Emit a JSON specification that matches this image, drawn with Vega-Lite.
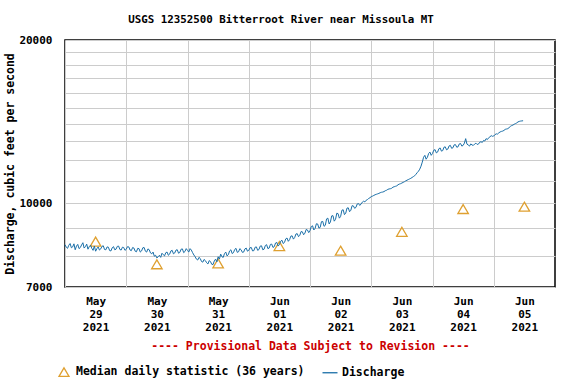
{
  "$schema": "https://vega.github.io/schema/vega-lite/v6.json",
  "autosize": {"type": "none"},
  "width": 490,
  "height": 247,
  "padding": {"left": 65, "top": 40, "right": 21, "bottom": 97},
  "background": "white",
  "config": {
    "view": {"stroke": "black", "strokeWidth": 1.5},
    "font": "DejaVu Sans Mono",
    "axis": {
      "labelFont": "DejaVu Sans Mono", "labelFontWeight": "bold", "labelFontSize": 11, "labelColor": "black",
      "titleFont": "DejaVu Sans Mono", "titleFontWeight": "bold", "titleFontSize": 11.5, "titleColor": "black",
      "domain": false, "ticks": false, "gridColor": "#cccccc", "gridWidth": 1, "gridOpacity": 1
    },
    "legend": {
      "labelFont": "DejaVu Sans Mono", "labelFontWeight": "bold", "labelFontSize": 11.5, "labelColor": "black", "labelLimit": 400
    }
  },
  "title": {
    "text": "USGS 12352500 Bitterroot River near Missoula MT",
    "font": "DejaVu Sans Mono", "fontWeight": "bold", "fontSize": 10.8, "color": "black",
    "anchor": "middle", "dx": -29, "offset": 9
  },
  "datasets": {
    "median": [
      {"t": "2021-05-29T12:00", "v": 8490, "s": "Median daily statistic (36 years)"},
      {"t": "2021-05-30T12:00", "v": 7710, "s": "Median daily statistic (36 years)"},
      {"t": "2021-05-31T12:00", "v": 7740, "s": "Median daily statistic (36 years)"},
      {"t": "2021-06-01T12:00", "v": 8330, "s": "Median daily statistic (36 years)"},
      {"t": "2021-06-02T12:00", "v": 8170, "s": "Median daily statistic (36 years)"},
      {"t": "2021-06-03T12:00", "v": 8850, "s": "Median daily statistic (36 years)"},
      {"t": "2021-06-04T12:00", "v": 9750, "s": "Median daily statistic (36 years)"},
      {"t": "2021-06-05T12:00", "v": 9850, "s": "Median daily statistic (36 years)"}
    ],
    "flow": [
      {"t":"2021-05-29T00:00","v":8380,"s":"Discharge"},{"t":"2021-05-29T00:30","v":8290,"s":"Discharge"},
      {"t":"2021-05-29T01:00","v":8250,"s":"Discharge"},{"t":"2021-05-29T01:30","v":8360,"s":"Discharge"},
      {"t":"2021-05-29T02:00","v":8420,"s":"Discharge"},{"t":"2021-05-29T02:30","v":8270,"s":"Discharge"},
      {"t":"2021-05-29T03:00","v":8300,"s":"Discharge"},{"t":"2021-05-29T03:30","v":8410,"s":"Discharge"},
      {"t":"2021-05-29T04:00","v":8200,"s":"Discharge"},{"t":"2021-05-29T04:30","v":8330,"s":"Discharge"},
      {"t":"2021-05-29T05:00","v":8390,"s":"Discharge"},{"t":"2021-05-29T05:30","v":8240,"s":"Discharge"},
      {"t":"2021-05-29T06:00","v":8280,"s":"Discharge"},{"t":"2021-05-29T06:30","v":8370,"s":"Discharge"},
      {"t":"2021-05-29T07:00","v":8450,"s":"Discharge"},{"t":"2021-05-29T07:30","v":8260,"s":"Discharge"},
      {"t":"2021-05-29T08:00","v":8310,"s":"Discharge"},{"t":"2021-05-29T08:30","v":8400,"s":"Discharge"},
      {"t":"2021-05-29T09:00","v":8220,"s":"Discharge"},{"t":"2021-05-29T09:30","v":8310,"s":"Discharge"},
      {"t":"2021-05-29T10:00","v":8360,"s":"Discharge"},{"t":"2021-05-29T10:30","v":8250,"s":"Discharge"},
      {"t":"2021-05-29T11:00","v":8180,"s":"Discharge"},{"t":"2021-05-29T11:30","v":8330,"s":"Discharge"},
      {"t":"2021-05-29T12:00","v":8150,"s":"Discharge"},{"t":"2021-05-29T12:30","v":8240,"s":"Discharge"},
      {"t":"2021-05-29T13:00","v":8300,"s":"Discharge"},{"t":"2021-05-29T13:30","v":8190,"s":"Discharge"},
      {"t":"2021-05-29T14:00","v":8230,"s":"Discharge"},{"t":"2021-05-29T14:30","v":8320,"s":"Discharge"},
      {"t":"2021-05-29T15:00","v":8340,"s":"Discharge"},{"t":"2021-05-29T15:30","v":8210,"s":"Discharge"},
      {"t":"2021-05-29T16:00","v":8200,"s":"Discharge"},{"t":"2021-05-29T16:30","v":8300,"s":"Discharge"},
      {"t":"2021-05-29T17:00","v":8290,"s":"Discharge"},{"t":"2021-05-29T17:30","v":8170,"s":"Discharge"},
      {"t":"2021-05-29T18:00","v":8160,"s":"Discharge"},{"t":"2021-05-29T18:30","v":8270,"s":"Discharge"},
      {"t":"2021-05-29T19:00","v":8310,"s":"Discharge"},{"t":"2021-05-29T19:30","v":8200,"s":"Discharge"},
      {"t":"2021-05-29T20:00","v":8220,"s":"Discharge"},{"t":"2021-05-29T20:30","v":8320,"s":"Discharge"},
      {"t":"2021-05-29T21:00","v":8330,"s":"Discharge"},{"t":"2021-05-29T21:30","v":8210,"s":"Discharge"},
      {"t":"2021-05-29T22:00","v":8190,"s":"Discharge"},{"t":"2021-05-29T22:30","v":8290,"s":"Discharge"},
      {"t":"2021-05-29T23:00","v":8280,"s":"Discharge"},{"t":"2021-05-29T23:30","v":8180,"s":"Discharge"},
      {"t":"2021-05-30T00:00","v":8220,"s":"Discharge"},{"t":"2021-05-30T00:30","v":8310,"s":"Discharge"},
      {"t":"2021-05-30T01:00","v":8300,"s":"Discharge"},{"t":"2021-05-30T01:30","v":8190,"s":"Discharge"},
      {"t":"2021-05-30T02:00","v":8170,"s":"Discharge"},{"t":"2021-05-30T02:30","v":8280,"s":"Discharge"},
      {"t":"2021-05-30T03:00","v":8260,"s":"Discharge"},{"t":"2021-05-30T03:30","v":8150,"s":"Discharge"},
      {"t":"2021-05-30T04:00","v":8130,"s":"Discharge"},{"t":"2021-05-30T04:30","v":8250,"s":"Discharge"},
      {"t":"2021-05-30T05:00","v":8240,"s":"Discharge"},{"t":"2021-05-30T05:30","v":8120,"s":"Discharge"},
      {"t":"2021-05-30T06:00","v":8160,"s":"Discharge"},{"t":"2021-05-30T06:30","v":8270,"s":"Discharge"},
      {"t":"2021-05-30T07:00","v":8280,"s":"Discharge"},{"t":"2021-05-30T07:30","v":8150,"s":"Discharge"},
      {"t":"2021-05-30T08:00","v":8120,"s":"Discharge"},{"t":"2021-05-30T08:30","v":8230,"s":"Discharge"},
      {"t":"2021-05-30T09:00","v":8200,"s":"Discharge"},{"t":"2021-05-30T09:30","v":8090,"s":"Discharge"},
      {"t":"2021-05-30T10:00","v":8060,"s":"Discharge"},{"t":"2021-05-30T10:30","v":8120,"s":"Discharge"},
      {"t":"2021-05-30T11:00","v":7980,"s":"Discharge"},{"t":"2021-05-30T11:30","v":8010,"s":"Discharge"},
      {"t":"2021-05-30T12:00","v":7920,"s":"Discharge"},{"t":"2021-05-30T12:30","v":7960,"s":"Discharge"},
      {"t":"2021-05-30T13:00","v":8010,"s":"Discharge"},{"t":"2021-05-30T13:30","v":7940,"s":"Discharge"},
      {"t":"2021-05-30T14:00","v":8080,"s":"Discharge"},{"t":"2021-05-30T14:30","v":8030,"s":"Discharge"},
      {"t":"2021-05-30T15:00","v":7990,"s":"Discharge"},{"t":"2021-05-30T15:30","v":8100,"s":"Discharge"},
      {"t":"2021-05-30T16:00","v":8120,"s":"Discharge"},{"t":"2021-05-30T16:30","v":8010,"s":"Discharge"},
      {"t":"2021-05-30T17:00","v":8050,"s":"Discharge"},{"t":"2021-05-30T17:30","v":8160,"s":"Discharge"},
      {"t":"2021-05-30T18:00","v":8180,"s":"Discharge"},{"t":"2021-05-30T18:30","v":8060,"s":"Discharge"},
      {"t":"2021-05-30T19:00","v":8090,"s":"Discharge"},{"t":"2021-05-30T19:30","v":8190,"s":"Discharge"},
      {"t":"2021-05-30T20:00","v":8200,"s":"Discharge"},{"t":"2021-05-30T20:30","v":8080,"s":"Discharge"},
      {"t":"2021-05-30T21:00","v":8110,"s":"Discharge"},{"t":"2021-05-30T21:30","v":8220,"s":"Discharge"},
      {"t":"2021-05-30T22:00","v":8230,"s":"Discharge"},{"t":"2021-05-30T22:30","v":8100,"s":"Discharge"},
      {"t":"2021-05-30T23:00","v":8140,"s":"Discharge"},{"t":"2021-05-30T23:30","v":8240,"s":"Discharge"},
      {"t":"2021-05-31T00:00","v":8180,"s":"Discharge"},{"t":"2021-05-31T00:30","v":8120,"s":"Discharge"},
      {"t":"2021-05-31T01:00","v":8240,"s":"Discharge"},{"t":"2021-05-31T01:30","v":8190,"s":"Discharge"},
      {"t":"2021-05-31T02:00","v":8100,"s":"Discharge"},{"t":"2021-05-31T02:30","v":8020,"s":"Discharge"},
      {"t":"2021-05-31T03:00","v":7960,"s":"Discharge"},{"t":"2021-05-31T03:30","v":7880,"s":"Discharge"},
      {"t":"2021-05-31T04:00","v":7850,"s":"Discharge"},{"t":"2021-05-31T04:30","v":7940,"s":"Discharge"},
      {"t":"2021-05-31T05:00","v":7900,"s":"Discharge"},{"t":"2021-05-31T05:30","v":7800,"s":"Discharge"},
      {"t":"2021-05-31T06:00","v":7780,"s":"Discharge"},{"t":"2021-05-31T06:30","v":7870,"s":"Discharge"},
      {"t":"2021-05-31T07:00","v":7830,"s":"Discharge"},{"t":"2021-05-31T07:30","v":7760,"s":"Discharge"},
      {"t":"2021-05-31T08:00","v":7720,"s":"Discharge"},{"t":"2021-05-31T08:30","v":7830,"s":"Discharge"},
      {"t":"2021-05-31T09:00","v":7800,"s":"Discharge"},{"t":"2021-05-31T09:30","v":7710,"s":"Discharge"},
      {"t":"2021-05-31T10:00","v":7700,"s":"Discharge"},{"t":"2021-05-31T10:30","v":7820,"s":"Discharge"},
      {"t":"2021-05-31T11:00","v":7880,"s":"Discharge"},{"t":"2021-05-31T11:30","v":7790,"s":"Discharge"},
      {"t":"2021-05-31T12:00","v":7960,"s":"Discharge"},{"t":"2021-05-31T12:30","v":7880,"s":"Discharge"},
      {"t":"2021-05-31T13:00","v":8050,"s":"Discharge"},{"t":"2021-05-31T13:30","v":7960,"s":"Discharge"},
      {"t":"2021-05-31T14:00","v":7940,"s":"Discharge"},{"t":"2021-05-31T14:30","v":8070,"s":"Discharge"},
      {"t":"2021-05-31T15:00","v":8120,"s":"Discharge"},{"t":"2021-05-31T15:30","v":7990,"s":"Discharge"},
      {"t":"2021-05-31T16:00","v":8030,"s":"Discharge"},{"t":"2021-05-31T16:30","v":8160,"s":"Discharge"},
      {"t":"2021-05-31T17:00","v":8200,"s":"Discharge"},{"t":"2021-05-31T17:30","v":8070,"s":"Discharge"},
      {"t":"2021-05-31T18:00","v":8100,"s":"Discharge"},{"t":"2021-05-31T18:30","v":8210,"s":"Discharge"},
      {"t":"2021-05-31T19:00","v":8250,"s":"Discharge"},{"t":"2021-05-31T19:30","v":8110,"s":"Discharge"},
      {"t":"2021-05-31T20:00","v":8130,"s":"Discharge"},{"t":"2021-05-31T20:30","v":8240,"s":"Discharge"},
      {"t":"2021-05-31T21:00","v":8200,"s":"Discharge"},{"t":"2021-05-31T21:30","v":8110,"s":"Discharge"},
      {"t":"2021-05-31T22:00","v":8120,"s":"Discharge"},{"t":"2021-05-31T22:30","v":8230,"s":"Discharge"},
      {"t":"2021-05-31T23:00","v":8260,"s":"Discharge"},{"t":"2021-05-31T23:30","v":8150,"s":"Discharge"},
      {"t":"2021-06-01T00:00","v":8180,"s":"Discharge"},{"t":"2021-06-01T00:30","v":8270,"s":"Discharge"},
      {"t":"2021-06-01T01:00","v":8280,"s":"Discharge"},{"t":"2021-06-01T01:30","v":8160,"s":"Discharge"},
      {"t":"2021-06-01T02:00","v":8170,"s":"Discharge"},{"t":"2021-06-01T02:30","v":8290,"s":"Discharge"},
      {"t":"2021-06-01T03:00","v":8300,"s":"Discharge"},{"t":"2021-06-01T03:30","v":8180,"s":"Discharge"},
      {"t":"2021-06-01T04:00","v":8210,"s":"Discharge"},{"t":"2021-06-01T04:30","v":8330,"s":"Discharge"},
      {"t":"2021-06-01T05:00","v":8340,"s":"Discharge"},{"t":"2021-06-01T05:30","v":8200,"s":"Discharge"},
      {"t":"2021-06-01T06:00","v":8220,"s":"Discharge"},{"t":"2021-06-01T06:30","v":8350,"s":"Discharge"},
      {"t":"2021-06-01T07:00","v":8380,"s":"Discharge"},{"t":"2021-06-01T07:30","v":8240,"s":"Discharge"},
      {"t":"2021-06-01T08:00","v":8260,"s":"Discharge"},{"t":"2021-06-01T08:30","v":8390,"s":"Discharge"},
      {"t":"2021-06-01T09:00","v":8400,"s":"Discharge"},{"t":"2021-06-01T09:30","v":8280,"s":"Discharge"},
      {"t":"2021-06-01T10:00","v":8310,"s":"Discharge"},{"t":"2021-06-01T10:30","v":8440,"s":"Discharge"},
      {"t":"2021-06-01T11:00","v":8460,"s":"Discharge"},{"t":"2021-06-01T11:30","v":8330,"s":"Discharge"},
      {"t":"2021-06-01T12:00","v":8380,"s":"Discharge"},{"t":"2021-06-01T12:30","v":8500,"s":"Discharge"},
      {"t":"2021-06-01T13:00","v":8540,"s":"Discharge"},{"t":"2021-06-01T13:30","v":8420,"s":"Discharge"},
      {"t":"2021-06-01T14:00","v":8460,"s":"Discharge"},{"t":"2021-06-01T14:30","v":8590,"s":"Discharge"},
      {"t":"2021-06-01T15:00","v":8620,"s":"Discharge"},{"t":"2021-06-01T15:30","v":8500,"s":"Discharge"},
      {"t":"2021-06-01T16:00","v":8560,"s":"Discharge"},{"t":"2021-06-01T16:30","v":8690,"s":"Discharge"},
      {"t":"2021-06-01T17:00","v":8700,"s":"Discharge"},{"t":"2021-06-01T17:30","v":8580,"s":"Discharge"},
      {"t":"2021-06-01T18:00","v":8640,"s":"Discharge"},{"t":"2021-06-01T18:30","v":8770,"s":"Discharge"},
      {"t":"2021-06-01T19:00","v":8780,"s":"Discharge"},{"t":"2021-06-01T19:30","v":8670,"s":"Discharge"},
      {"t":"2021-06-01T20:00","v":8720,"s":"Discharge"},{"t":"2021-06-01T20:30","v":8860,"s":"Discharge"},
      {"t":"2021-06-01T21:00","v":8850,"s":"Discharge"},{"t":"2021-06-01T21:30","v":8740,"s":"Discharge"},
      {"t":"2021-06-01T22:00","v":8800,"s":"Discharge"},{"t":"2021-06-01T22:30","v":8940,"s":"Discharge"},
      {"t":"2021-06-01T23:00","v":8920,"s":"Discharge"},{"t":"2021-06-01T23:30","v":8820,"s":"Discharge"},
      {"t":"2021-06-02T00:00","v":8900,"s":"Discharge"},{"t":"2021-06-02T00:30","v":9050,"s":"Discharge"},
      {"t":"2021-06-02T01:00","v":9080,"s":"Discharge"},{"t":"2021-06-02T01:30","v":8920,"s":"Discharge"},
      {"t":"2021-06-02T02:00","v":8980,"s":"Discharge"},{"t":"2021-06-02T02:30","v":9160,"s":"Discharge"},
      {"t":"2021-06-02T03:00","v":9150,"s":"Discharge"},{"t":"2021-06-02T03:30","v":8990,"s":"Discharge"},
      {"t":"2021-06-02T04:00","v":9020,"s":"Discharge"},{"t":"2021-06-02T04:30","v":9240,"s":"Discharge"},
      {"t":"2021-06-02T05:00","v":9250,"s":"Discharge"},{"t":"2021-06-02T05:30","v":9060,"s":"Discharge"},
      {"t":"2021-06-02T06:00","v":9100,"s":"Discharge"},{"t":"2021-06-02T06:30","v":9350,"s":"Discharge"},
      {"t":"2021-06-02T07:00","v":9380,"s":"Discharge"},{"t":"2021-06-02T07:30","v":9150,"s":"Discharge"},
      {"t":"2021-06-02T08:00","v":9230,"s":"Discharge"},{"t":"2021-06-02T08:30","v":9470,"s":"Discharge"},
      {"t":"2021-06-02T09:00","v":9480,"s":"Discharge"},{"t":"2021-06-02T09:30","v":9260,"s":"Discharge"},
      {"t":"2021-06-02T10:00","v":9330,"s":"Discharge"},{"t":"2021-06-02T10:30","v":9580,"s":"Discharge"},
      {"t":"2021-06-02T11:00","v":9560,"s":"Discharge"},{"t":"2021-06-02T11:30","v":9380,"s":"Discharge"},
      {"t":"2021-06-02T12:00","v":9450,"s":"Discharge"},{"t":"2021-06-02T12:30","v":9700,"s":"Discharge"},
      {"t":"2021-06-02T13:00","v":9720,"s":"Discharge"},{"t":"2021-06-02T13:30","v":9520,"s":"Discharge"},
      {"t":"2021-06-02T14:00","v":9580,"s":"Discharge"},{"t":"2021-06-02T14:30","v":9790,"s":"Discharge"},
      {"t":"2021-06-02T15:00","v":9800,"s":"Discharge"},{"t":"2021-06-02T15:30","v":9640,"s":"Discharge"},
      {"t":"2021-06-02T16:00","v":9700,"s":"Discharge"},{"t":"2021-06-02T16:30","v":9890,"s":"Discharge"},
      {"t":"2021-06-02T17:00","v":9880,"s":"Discharge"},{"t":"2021-06-02T17:30","v":9780,"s":"Discharge"},
      {"t":"2021-06-02T18:00","v":9820,"s":"Discharge"},{"t":"2021-06-02T18:30","v":9960,"s":"Discharge"},
      {"t":"2021-06-02T19:00","v":9980,"s":"Discharge"},{"t":"2021-06-02T19:30","v":9900,"s":"Discharge"},
      {"t":"2021-06-02T20:00","v":9960,"s":"Discharge"},{"t":"2021-06-02T20:30","v":10040,"s":"Discharge"},
      {"t":"2021-06-02T21:00","v":10080,"s":"Discharge"},{"t":"2021-06-02T21:30","v":10050,"s":"Discharge"},
      {"t":"2021-06-02T22:00","v":10120,"s":"Discharge"},{"t":"2021-06-02T22:30","v":10150,"s":"Discharge"},
      {"t":"2021-06-02T23:00","v":10200,"s":"Discharge"},{"t":"2021-06-02T23:30","v":10230,"s":"Discharge"},
      {"t":"2021-06-03T00:00","v":10280,"s":"Discharge"},{"t":"2021-06-03T00:30","v":10300,"s":"Discharge"},
      {"t":"2021-06-03T01:00","v":10330,"s":"Discharge"},{"t":"2021-06-03T01:30","v":10360,"s":"Discharge"},
      {"t":"2021-06-03T02:00","v":10380,"s":"Discharge"},{"t":"2021-06-03T02:30","v":10400,"s":"Discharge"},
      {"t":"2021-06-03T03:00","v":10420,"s":"Discharge"},{"t":"2021-06-03T03:30","v":10450,"s":"Discharge"},
      {"t":"2021-06-03T04:00","v":10470,"s":"Discharge"},{"t":"2021-06-03T04:30","v":10480,"s":"Discharge"},
      {"t":"2021-06-03T05:00","v":10500,"s":"Discharge"},{"t":"2021-06-03T05:30","v":10540,"s":"Discharge"},
      {"t":"2021-06-03T06:00","v":10560,"s":"Discharge"},{"t":"2021-06-03T06:30","v":10600,"s":"Discharge"},
      {"t":"2021-06-03T07:00","v":10620,"s":"Discharge"},{"t":"2021-06-03T07:30","v":10630,"s":"Discharge"},
      {"t":"2021-06-03T08:00","v":10650,"s":"Discharge"},{"t":"2021-06-03T08:30","v":10700,"s":"Discharge"},
      {"t":"2021-06-03T09:00","v":10720,"s":"Discharge"},{"t":"2021-06-03T09:30","v":10740,"s":"Discharge"},
      {"t":"2021-06-03T10:00","v":10760,"s":"Discharge"},{"t":"2021-06-03T10:30","v":10810,"s":"Discharge"},
      {"t":"2021-06-03T11:00","v":10840,"s":"Discharge"},{"t":"2021-06-03T11:30","v":10860,"s":"Discharge"},
      {"t":"2021-06-03T12:00","v":10890,"s":"Discharge"},{"t":"2021-06-03T12:30","v":10920,"s":"Discharge"},
      {"t":"2021-06-03T13:00","v":10950,"s":"Discharge"},{"t":"2021-06-03T13:30","v":10990,"s":"Discharge"},
      {"t":"2021-06-03T14:00","v":11020,"s":"Discharge"},{"t":"2021-06-03T14:30","v":11050,"s":"Discharge"},
      {"t":"2021-06-03T15:00","v":11080,"s":"Discharge"},{"t":"2021-06-03T15:30","v":11110,"s":"Discharge"},
      {"t":"2021-06-03T16:00","v":11150,"s":"Discharge"},{"t":"2021-06-03T16:30","v":11190,"s":"Discharge"},
      {"t":"2021-06-03T17:00","v":11230,"s":"Discharge"},{"t":"2021-06-03T17:30","v":11300,"s":"Discharge"},
      {"t":"2021-06-03T18:00","v":11380,"s":"Discharge"},{"t":"2021-06-03T18:30","v":11450,"s":"Discharge"},
      {"t":"2021-06-03T19:00","v":11550,"s":"Discharge"},{"t":"2021-06-03T19:30","v":11700,"s":"Discharge"},
      {"t":"2021-06-03T20:00","v":11900,"s":"Discharge"},{"t":"2021-06-03T20:30","v":12150,"s":"Discharge"},
      {"t":"2021-06-03T21:00","v":12250,"s":"Discharge"},{"t":"2021-06-03T21:30","v":12050,"s":"Discharge"},
      {"t":"2021-06-03T22:00","v":12150,"s":"Discharge"},{"t":"2021-06-03T22:30","v":12350,"s":"Discharge"},
      {"t":"2021-06-03T23:00","v":12420,"s":"Discharge"},{"t":"2021-06-03T23:30","v":12250,"s":"Discharge"},
      {"t":"2021-06-04T00:00","v":12350,"s":"Discharge"},{"t":"2021-06-04T00:30","v":12520,"s":"Discharge"},
      {"t":"2021-06-04T01:00","v":12550,"s":"Discharge"},{"t":"2021-06-04T01:30","v":12380,"s":"Discharge"},
      {"t":"2021-06-04T02:00","v":12420,"s":"Discharge"},{"t":"2021-06-04T02:30","v":12600,"s":"Discharge"},
      {"t":"2021-06-04T03:00","v":12640,"s":"Discharge"},{"t":"2021-06-04T03:30","v":12470,"s":"Discharge"},
      {"t":"2021-06-04T04:00","v":12500,"s":"Discharge"},{"t":"2021-06-04T04:30","v":12680,"s":"Discharge"},
      {"t":"2021-06-04T05:00","v":12700,"s":"Discharge"},{"t":"2021-06-04T05:30","v":12540,"s":"Discharge"},
      {"t":"2021-06-04T06:00","v":12580,"s":"Discharge"},{"t":"2021-06-04T06:30","v":12750,"s":"Discharge"},
      {"t":"2021-06-04T07:00","v":12780,"s":"Discharge"},{"t":"2021-06-04T07:30","v":12620,"s":"Discharge"},
      {"t":"2021-06-04T08:00","v":12650,"s":"Discharge"},{"t":"2021-06-04T08:30","v":12810,"s":"Discharge"},
      {"t":"2021-06-04T09:00","v":12820,"s":"Discharge"},{"t":"2021-06-04T09:30","v":12680,"s":"Discharge"},
      {"t":"2021-06-04T10:00","v":12700,"s":"Discharge"},{"t":"2021-06-04T10:30","v":12860,"s":"Discharge"},
      {"t":"2021-06-04T11:00","v":12880,"s":"Discharge"},{"t":"2021-06-04T11:30","v":12740,"s":"Discharge"},
      {"t":"2021-06-04T12:00","v":12780,"s":"Discharge"},{"t":"2021-06-04T12:30","v":12900,"s":"Discharge"},
      {"t":"2021-06-04T13:00","v":13150,"s":"Discharge"},{"t":"2021-06-04T13:30","v":12850,"s":"Discharge"},
      {"t":"2021-06-04T14:00","v":12800,"s":"Discharge"},{"t":"2021-06-04T14:30","v":12740,"s":"Discharge"},
      {"t":"2021-06-04T15:00","v":12860,"s":"Discharge"},{"t":"2021-06-04T15:30","v":12800,"s":"Discharge"},
      {"t":"2021-06-04T16:00","v":12780,"s":"Discharge"},{"t":"2021-06-04T16:30","v":12850,"s":"Discharge"},
      {"t":"2021-06-04T17:00","v":12900,"s":"Discharge"},{"t":"2021-06-04T17:30","v":12830,"s":"Discharge"},
      {"t":"2021-06-04T18:00","v":12850,"s":"Discharge"},{"t":"2021-06-04T18:30","v":12950,"s":"Discharge"},
      {"t":"2021-06-04T19:00","v":12980,"s":"Discharge"},{"t":"2021-06-04T19:30","v":12940,"s":"Discharge"},
      {"t":"2021-06-04T20:00","v":13050,"s":"Discharge"},{"t":"2021-06-04T20:30","v":13020,"s":"Discharge"},
      {"t":"2021-06-04T21:00","v":13150,"s":"Discharge"},{"t":"2021-06-04T21:30","v":13100,"s":"Discharge"},
      {"t":"2021-06-04T22:00","v":13200,"s":"Discharge"},{"t":"2021-06-04T22:30","v":13250,"s":"Discharge"},
      {"t":"2021-06-04T23:00","v":13320,"s":"Discharge"},{"t":"2021-06-04T23:30","v":13280,"s":"Discharge"},
      {"t":"2021-06-05T00:00","v":13300,"s":"Discharge"},{"t":"2021-06-05T00:30","v":13380,"s":"Discharge"},
      {"t":"2021-06-05T01:00","v":13420,"s":"Discharge"},{"t":"2021-06-05T01:30","v":13410,"s":"Discharge"},
      {"t":"2021-06-05T02:00","v":13480,"s":"Discharge"},{"t":"2021-06-05T02:30","v":13530,"s":"Discharge"},
      {"t":"2021-06-05T03:00","v":13560,"s":"Discharge"},{"t":"2021-06-05T03:30","v":13580,"s":"Discharge"},
      {"t":"2021-06-05T04:00","v":13620,"s":"Discharge"},{"t":"2021-06-05T04:30","v":13680,"s":"Discharge"},
      {"t":"2021-06-05T05:00","v":13700,"s":"Discharge"},{"t":"2021-06-05T05:30","v":13720,"s":"Discharge"},
      {"t":"2021-06-05T06:00","v":13780,"s":"Discharge"},{"t":"2021-06-05T06:30","v":13850,"s":"Discharge"},
      {"t":"2021-06-05T07:00","v":13900,"s":"Discharge"},{"t":"2021-06-05T07:30","v":13930,"s":"Discharge"},
      {"t":"2021-06-05T08:00","v":13980,"s":"Discharge"},{"t":"2021-06-05T08:30","v":14020,"s":"Discharge"},
      {"t":"2021-06-05T09:00","v":14060,"s":"Discharge"},{"t":"2021-06-05T09:30","v":14120,"s":"Discharge"},
      {"t":"2021-06-05T10:00","v":14150,"s":"Discharge"},{"t":"2021-06-05T10:30","v":14170,"s":"Discharge"},
      {"t":"2021-06-05T11:00","v":14180,"s":"Discharge"},{"t":"2021-06-05T11:30","v":14190,"s":"Discharge"}
    ]
  },
  "encoding": {
    "x": {
      "field": "t", "type": "temporal",
      "scale": {"domain": [{"year": 2021, "month": 5, "date": 29}, {"year": 2021, "month": 6, "date": 6}], "nice": false},
      "axis": {
        "title": "---- Provisional Data Subject to Revision ----",
        "titleColor": "#cc0000", "titleFontSize": 11.5, "titlePadding": 8,
        "values": [
          {"year": 2021, "month": 5, "date": 29}, {"year": 2021, "month": 5, "date": 30},
          {"year": 2021, "month": 5, "date": 31}, {"year": 2021, "month": 6, "date": 1},
          {"year": 2021, "month": 6, "date": 2}, {"year": 2021, "month": 6, "date": 3},
          {"year": 2021, "month": 6, "date": 4}, {"year": 2021, "month": 6, "date": 5}
        ],
        "labelExpr": "[timeFormat(datum.value, '%b'), timeFormat(datum.value, '%d'), timeFormat(datum.value, '%Y')]",
        "labelOffset": 30.6, "labelLineHeight": 13, "labelPadding": 8,
        "labelOverlap": false, "labelBound": false, "labelFlush": false, "grid": true
      }
    },
    "y": {
      "field": "v", "type": "quantitative",
      "scale": {"type": "log", "domain": [7000, 20000], "nice": false},
      "axis": {
        "title": "Discharge, cubic feet per second",
        "values": [7000, 8000, 9000, 10000, 11000, 12000, 13000, 14000, 15000, 16000, 17000, 18000, 19000, 20000],
        "labelExpr": "indexof([7000, 10000, 20000], datum.value) >= 0 ? format(datum.value, 'd') : ''",
        "labelOverlap": false, "labelBound": false, "labelFlush": false, "labelPadding": 13,
        "titlePadding": 3, "grid": true
      }
    },
    "color": {
      "field": "s", "type": "nominal",
      "scale": {"domain": ["Median daily statistic (36 years)", "Discharge"], "range": ["#dfa030", "#1a6fa8"]},
      "legend": {
        "title": null, "orient": "none", "direction": "horizontal", "legendX": -7, "legendY": 326,
        "padding": 0, "columnPadding": 14, "labelOffset": 6, "symbolStrokeWidth": 1.3, "labelLimit": 400
      }
    }
  },
  "layer": [
    {
      "data": {"name": "median"},
      "mark": {"type": "point", "filled": false, "strokeWidth": 1.3, "size": 110, "opacity": 1},
      "encoding": {
        "shape": {
          "field": "s", "type": "nominal",
          "scale": {"domain": ["Median daily statistic (36 years)", "Discharge"], "range": ["M0,-0.85L1,0.85L-1,0.85Z", "M-1.5,0H1.5"]},
          "legend": {
            "title": null, "orient": "none", "direction": "horizontal", "legendX": -7, "legendY": 326,
            "padding": 0, "columnPadding": 14, "labelOffset": 6, "symbolStrokeWidth": 1.3, "labelLimit": 400
          }
        }
      }
    },
    {
      "data": {"name": "flow"},
      "mark": {"type": "line", "strokeWidth": 1},
      "encoding": {}
    }
  ]
}
